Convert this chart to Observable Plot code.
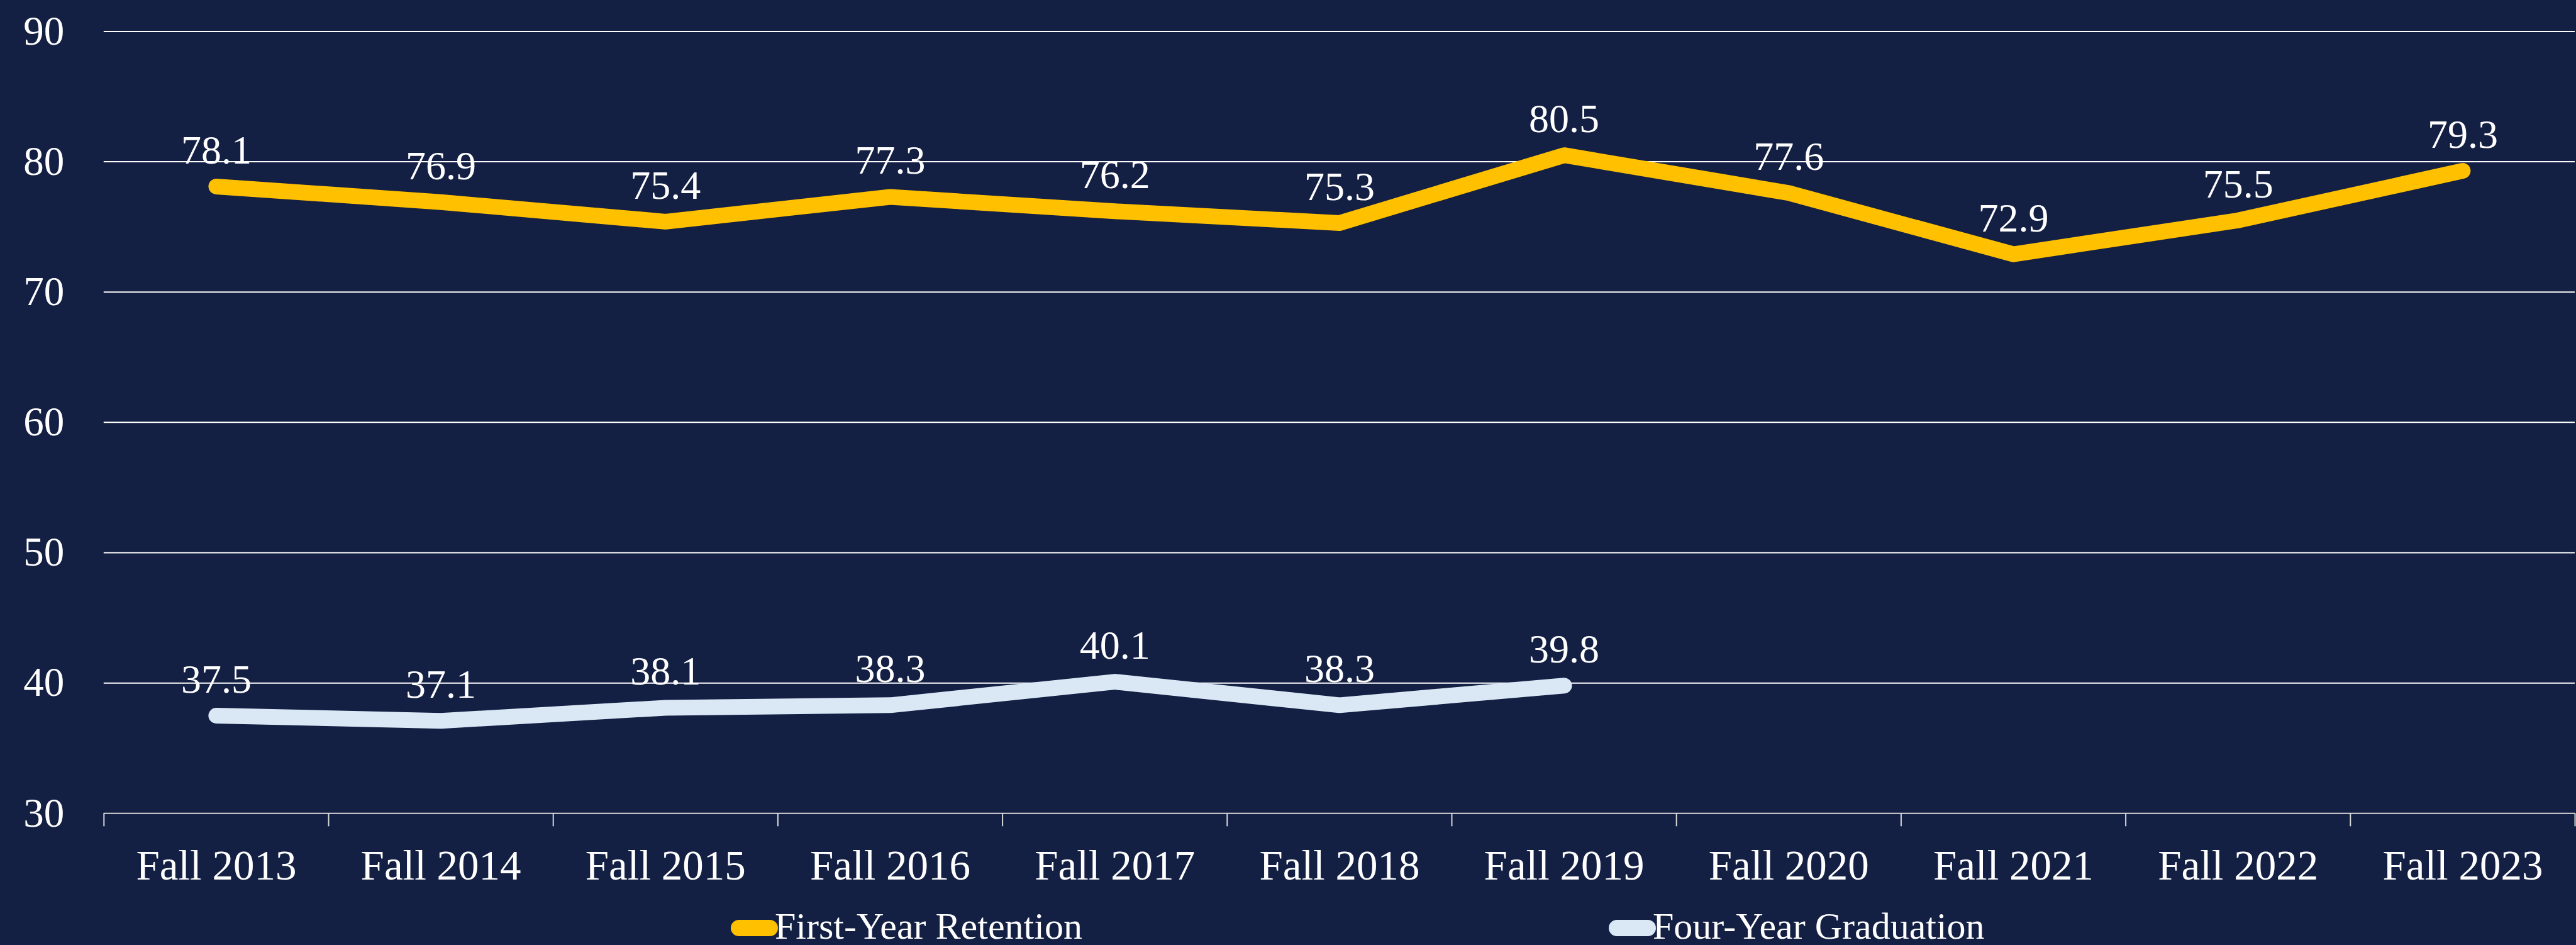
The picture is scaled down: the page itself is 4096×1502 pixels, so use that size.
<!DOCTYPE html>
<html>
<head>
<meta charset="utf-8">
<script src="https://cdn.jsdelivr.net/npm/d3@7"></script>
<script src="https://cdn.jsdelivr.net/npm/@observablehq/plot@0.6"></script>
<style>
  html, body { margin: 0; padding: 0; background: #131f43; width: 4096px; height: 1502px; overflow: hidden; font-family: "Liberation Serif", "DejaVu Serif", serif; }
  #chart { position: relative; width: 4096px; height: 1502px; }
  .sw { position: absolute; height: 26px; width: 75px; border-radius: 13px; }
  .lt { position: absolute; color: #ffffff; font-size: 60px; line-height: 60px; white-space: nowrap; }
</style>
</head>
<body>
<div id="chart"></div>
<script>
const categories = ["Fall 2013", "Fall 2014", "Fall 2015", "Fall 2016", "Fall 2017", "Fall 2018", "Fall 2019", "Fall 2020", "Fall 2021", "Fall 2022", "Fall 2023"];
const retention = [78.1, 76.9, 75.4, 77.3, 76.2, 75.3, 80.5, 77.6, 72.9, 75.5, 79.3];
const graduation = [37.5, 37.1, 38.1, 38.3, 40.1, 38.3, 39.8];
const yTicks = [30, 40, 50, 60, 70, 80, 90];
const seriesNames = ["First-Year Retention", "Four-Year Graduation"];
const seriesColors = ["#ffc000", "#dae8f6"];

const rows = [
  ...retention.map((v, i) => ({series: seriesNames[0], idx: i, value: v})),
  ...graduation.map((v, i) => ({series: seriesNames[1], idx: i, value: v}))
];

const W = 4096, H = 1420;
const mTop = 49.4, mLeft = 164.8, mRight = 2, yBottom = 1292.3;

const plot = Plot.plot({
  width: W,
  height: H,
  marginTop: mTop,
  marginLeft: mLeft,
  marginRight: mRight,
  marginBottom: H - yBottom,
  style: {background: "transparent", color: "#ffffff", fontFamily: "Liberation Serif, serif"},
  x: {domain: [0, categories.length], axis: null, label: null},
  y: {domain: [30, 90], axis: null, label: null},
  color: {domain: seriesNames, range: seriesColors},
  marks: [
    Plot.ruleY(yTicks.filter(d => d > 30), {y: d => d, stroke: "#ffffff", strokeWidth: 2}),
    Plot.ruleY([30], {y: d => d, stroke: "#d9d9d9", strokeWidth: 2}),
    Plot.axisY({ticks: yTicks, tickSize: 0, tickPadding: 63, fontSize: 65, fill: "#ffffff", label: null, tickFormat: d => String(d)}),
    Plot.axisX({ticks: d3.range(categories.length + 1), tickSize: 21, stroke: "#d9d9d9", strokeWidth: 2, fill: "none", label: null}),
    Plot.axisX({ticks: categories.map((_, i) => i + 0.5), tickSize: 0, tickPadding: 58, fontSize: 67, fill: "#ffffff", label: null,
                tickFormat: d => categories[Math.floor(d)]}),
    Plot.line(rows, {x: d => d.idx + 0.5, y: d => d.value, z: d => d.series, stroke: d => d.series,
                     strokeWidth: 25, strokeLinecap: "round", strokeLinejoin: "round"}),
    Plot.text(rows, {x: d => d.idx + 0.5, y: d => d.value, text: d => d.value.toFixed(1),
                     dy: -57, fontSize: 64, fill: "#ffffff"})
  ]
});

const chart = document.getElementById("chart");
chart.appendChild(plot);

const legendLefts = [1162, 2558];
seriesNames.forEach((name, i) => {
  const sw = document.createElement("div");
  sw.className = "sw";
  sw.style.left = legendLefts[i] + "px";
  sw.style.top = "1462px";
  sw.style.background = seriesColors[i];
  chart.appendChild(sw);
  const t = document.createElement("div");
  t.className = "lt";
  t.style.left = (legendLefts[i] + 70) + "px";
  t.style.top = "1442px";
  t.textContent = name;
  chart.appendChild(t);
});
plot.style.position = "absolute";
plot.style.left = "0px";
plot.style.top = "0px";
</script>
</body>
</html>
